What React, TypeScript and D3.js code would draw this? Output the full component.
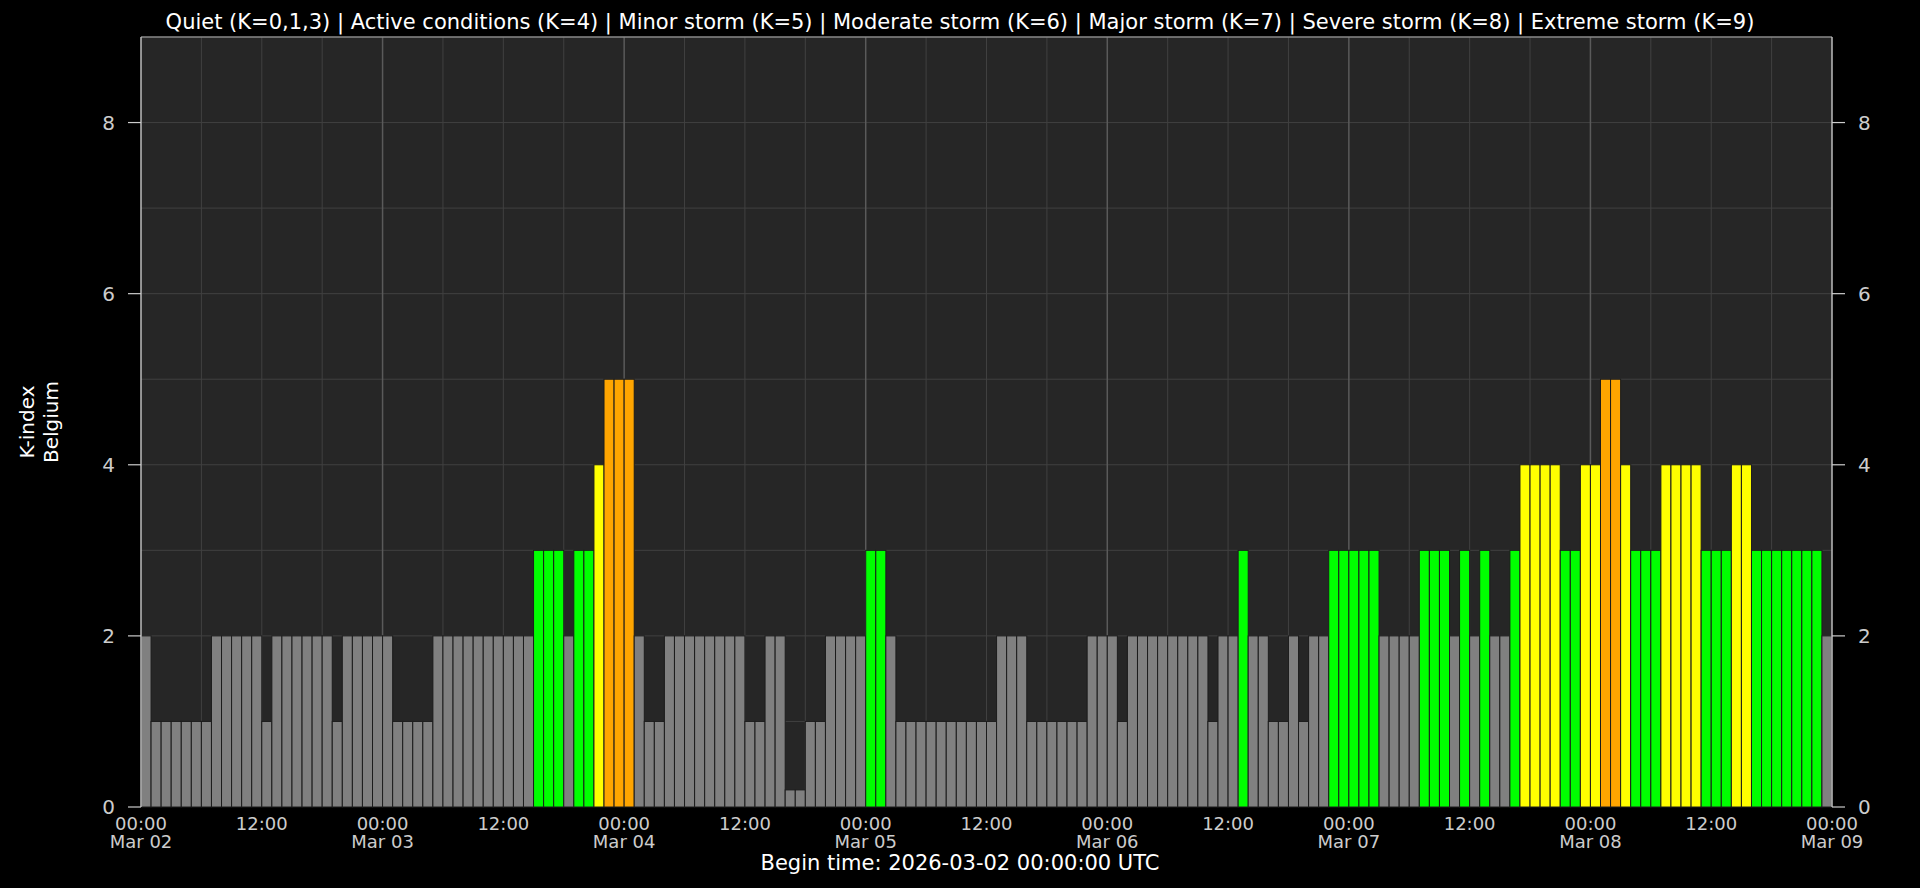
import React, { useEffect } from "react";
import * as d3 from "d3";

// Hourly K-index values, Belgium, starting 2026-03-02 00:00 UTC
const mar02 = [2, 1, 1, 1, 1, 1, 1, 2, 2, 2, 2, 2, 1, 2, 2, 2, 2, 2, 2, 1, 2, 2, 2, 2];
const mar03 = [2, 1, 1, 1, 1, 2, 2, 2, 2, 2, 2, 2, 2, 2, 2, 3, 3, 3, 2, 3, 3, 4, 5, 5];
const mar04 = [5, 2, 1, 1, 2, 2, 2, 2, 2, 2, 2, 2, 1, 1, 2, 2, 0.2, 0.2, 1, 1, 2, 2, 2, 2];
const mar05 = [3, 3, 2, 1, 1, 1, 1, 1, 1, 1, 1, 1, 1, 2, 2, 2, 1, 1, 1, 1, 1, 1, 2, 2];
const mar06 = [2, 1, 2, 2, 2, 2, 2, 2, 2, 2, 1, 2, 2, 3, 2, 2, 1, 1, 2, 1, 2, 2, 3, 3];
const mar07 = [3, 3, 3, 2, 2, 2, 2, 3, 3, 3, 2, 3, 2, 3, 2, 2, 3, 4, 4, 4, 4, 3, 3, 4];
const mar08 = [4, 5, 5, 4, 3, 3, 3, 4, 4, 4, 4, 3, 3, 3, 4, 4, 3, 3, 3, 3, 3, 3, 3, 2];

const kValues = [...mar02, ...mar03, ...mar04, ...mar05, ...mar06, ...mar07, ...mar08];
const dayLabels = ["Mar 02", "Mar 03", "Mar 04", "Mar 05", "Mar 06", "Mar 07", "Mar 08", "Mar 09"];
const yTicks = [0, 2, 4, 6, 8];
const titleText =
  "Quiet (K=0,1,3) | Active conditions (K=4) | Minor storm (K=5) | Moderate storm (K=6) | Major storm (K=7) | Severe storm (K=8) | Extreme storm (K=9)";
const footerText = "Begin time: 2026-03-02 00:00:00 UTC";

const W = 1920;
const H = 888;
const left = 141;
const right = 1832;
const top = 37;
const bottom = 807;
const FONT = "DejaVu Sans, sans-serif";

function colorFor(k: number) {
  if (k >= 9) return "#800080";
  if (k >= 8) return "#ff00ff";
  if (k >= 7) return "#ff0000";
  if (k >= 6) return "#ff6600";
  if (k >= 5) return "#ffa500";
  if (k >= 4) return "#ffff00";
  if (k >= 3) return "#00ff00";
  return "#808080";
}

export default function App() {
  useEffect(() => {
    document.body.style.margin = "0";
    document.body.style.background = "#000";
  }, []);

  const nHours = kValues.length;
  const x = d3.scaleLinear().domain([0, nHours]).range([left, right]);
  const y = d3.scaleLinear().domain([0, 9]).range([bottom, top]);

  const vGrid = d3.range(6, nHours, 6);
  const hGrid = d3.range(1, 9, 1);
  const xLabelHours = d3.range(0, nHours + 1, 12);

  return (
    <svg width={W} height={H} style={{ display: "block", background: "#000" }}>
      <rect x={left} y={top} width={right - left} height={bottom - top} fill="#262626" />
      {hGrid.map((v) => (
        <line key={"h" + v} x1={left} x2={right} y1={y(v)} y2={y(v)} stroke="#404040" strokeWidth={1} />
      ))}
      {vGrid.map((h) => (
        <line
          key={"v" + h}
          x1={x(h)}
          x2={x(h)}
          y1={top}
          y2={bottom}
          stroke={h % 24 === 0 ? "#5a5a5a" : "#404040"}
          strokeWidth={h % 24 === 0 ? 1.5 : 1}
        />
      ))}
      {kValues.map((k, i) => (
        <rect
          key={"b" + i}
          x={x(i)}
          y={y(k)}
          width={x(i + 1) - x(i)}
          height={y(0) - y(k)}
          fill={colorFor(k)}
          stroke="#1c1c1c"
          strokeWidth={1}
        />
      ))}
      {/* frame */}
      <line x1={left} x2={right} y1={top} y2={top} stroke="#8a8a8a" strokeWidth={1.5} />
      <line x1={left} x2={left} y1={top} y2={bottom} stroke="#bdbdbd" strokeWidth={1.5} />
      <line x1={right} x2={right} y1={top} y2={bottom} stroke="#bdbdbd" strokeWidth={1.5} />
      {/* y ticks */}
      {yTicks.map((t) => (
        <g key={"yt" + t}>
          <line x1={left - 13} x2={left} y1={y(t)} y2={y(t)} stroke="#cccccc" strokeWidth={1.2} />
          <text x={left - 26} y={y(t)} dy="0.36em" textAnchor="end" fill="#cccccc" fontSize={20} fontFamily={FONT}>
            {t}
          </text>
          <line x1={right} x2={right + 13} y1={y(t)} y2={y(t)} stroke="#cccccc" strokeWidth={1.2} />
          <text x={right + 26} y={y(t)} dy="0.36em" textAnchor="start" fill="#cccccc" fontSize={20} fontFamily={FONT}>
            {t}
          </text>
        </g>
      ))}
      {/* x labels */}
      {xLabelHours.map((h) => (
        <g key={"xl" + h}>
          <text x={x(h)} y={830} textAnchor="middle" fill="#cccccc" fontSize={18} fontFamily={FONT}>
            {h % 24 === 0 ? "00:00" : "12:00"}
          </text>
          {h % 24 === 0 && (
            <text x={x(h)} y={848} textAnchor="middle" fill="#cccccc" fontSize={18} fontFamily={FONT}>
              {dayLabels[h / 24]}
            </text>
          )}
        </g>
      ))}
      {/* y axis label */}
      <text
        transform={`translate(34, ${(top + bottom) / 2}) rotate(-90)`}
        textAnchor="middle"
        fill="#ffffff"
        fontSize={20}
        fontFamily={FONT}
      >
        K-index
      </text>
      <text
        transform={`translate(58, ${(top + bottom) / 2}) rotate(-90)`}
        textAnchor="middle"
        fill="#ffffff"
        fontSize={20}
        fontFamily={FONT}
      >
        Belgium
      </text>
      {/* title */}
      <text x={W / 2} y={29} textAnchor="middle" fill="#ffffff" fontSize={21} fontFamily={FONT}>
        {titleText}
      </text>
      {/* footer */}
      <text x={W / 2} y={870} textAnchor="middle" fill="#ffffff" fontSize={21} fontFamily={FONT}>
        {footerText}
      </text>
    </svg>
  );
}
